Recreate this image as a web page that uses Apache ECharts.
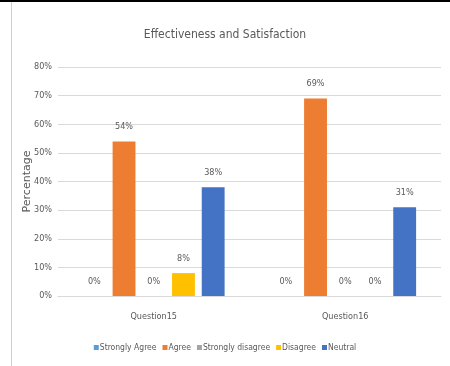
<!DOCTYPE html>
<html><head><meta charset="utf-8">
<script src="https://cdn.jsdelivr.net/npm/echarts@6/dist/echarts.min.js"></script>
<style>html,body{margin:0;padding:0;background:#fff}#c{width:450px;height:366px}</style>
</head><body><div id="c"></div>
<script>
const categories = ['Question15', 'Question16'];
const seriesNames = ['Strongly Agree', 'Agree', 'Strongly disagree', 'Disagree', 'Neutral'];
const stronglyAgree = [0, 0];
const agree = [54, 69];
const stronglyDisagree = [0, 0];
const disagree = [8, 0];
const neutral = [38, 31];
const yTicks = [0, 10, 20, 30, 40, 50, 60, 70, 80];
const colors = ['#5B9BD5', '#ED7D31', '#A5A5A5', '#FFC000', '#4472C4'];
const values = [stronglyAgree, agree, stronglyDisagree, disagree, neutral];
const font = '"DejaVu Sans Condensed", "Liberation Sans Narrow", sans-serif';

const chart = echarts.init(document.getElementById('c'));
chart.setOption({
  animation: false,
  color: colors,
  title: {
    text: 'Effectiveness and Satisfaction',
    left: 'center', top: 24,
    textStyle: { fontFamily: font, fontSize: 12, fontWeight: 'normal', color: '#595959' }
  },
  legend: {
    bottom: 9, left: 'center',
    itemWidth: 5, itemHeight: 5, itemGap: 6,
    icon: 'rect',
    textStyle: { fontFamily: font, fontSize: 8.5, color: '#595959', padding: [0, 0, 0, -4] }
  },
  grid: { left: 58, right: 9, top: 67, bottom: 70 },
  xAxis: {
    type: 'category', data: categories,
    axisLine: { lineStyle: { color: '#D9D9D9' } },
    axisTick: { show: false },
    axisLabel: { fontFamily: font, fontSize: 9, color: '#595959', margin: 16 }
  },
  yAxis: {
    type: 'value', min: yTicks[0], max: yTicks[yTicks.length - 1], interval: 10,
    name: 'Percentage', nameLocation: 'middle', nameGap: 25, nameRotate: 90,
    nameMoveOverlap: false,
    nameTextStyle: { fontFamily: '"DejaVu Sans", sans-serif', fontSize: 11, color: '#595959' },
    axisLine: { show: false }, axisTick: { show: false },
    splitLine: { lineStyle: { color: '#D9D9D9' } },
    axisLabel: { fontFamily: font, fontSize: 9, color: '#595959', margin: 6, formatter: v => v + '%' }
  },
  series: seriesNames.map((n, i) => ({
    name: n, type: 'bar', data: values[i],
    barGap: '30%', barCategoryGap: '26%',
    itemStyle: { color: colors[i] },
    label: { show: true, position: 'top', formatter: p => p.value + '%', distance: 10,
      fontFamily: font, fontSize: 9, color: '#595959' }
  })),
  graphic: [
    { type: 'rect', shape: { x: 0, y: 0, width: 450, height: 2 }, style: { fill: '#000' } },
    { type: 'rect', shape: { x: 11, y: 2, width: 1, height: 364 }, style: { fill: '#D0D0D0' } }
  ]
});
</script></body></html>
